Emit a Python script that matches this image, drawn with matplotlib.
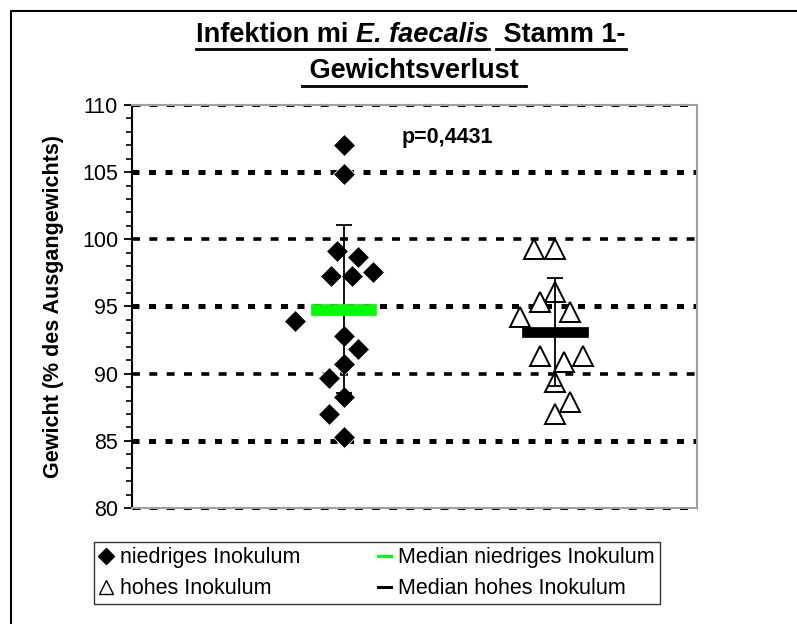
import matplotlib
matplotlib.use("Agg")
import matplotlib.pyplot as plt
from matplotlib.lines import Line2D
from matplotlib.patches import Rectangle

plt.rcParams['font.family'] = ['Liberation Sans', 'DejaVu Sans']

# Werte (Gewicht in % des Ausgangsgewichts)
niedrig = [107.0, 104.9, 99.1, 98.7, 97.3, 97.3, 97.6, 93.9, 92.8, 91.8, 90.7, 89.7, 88.3, 87.0, 85.3]
niedrig_dx = [0, 0, -0.03, 0.07, -0.06, 0.04, 0.14, -0.23, 0, 0.07, 0, -0.07, 0, -0.07, 0]
hoch = [99.3, 99.3, 96.1, 95.35, 94.6, 94.2, 91.3, 90.9, 91.3, 89.4, 87.9, 87.0]
hoch_dx = [-0.1, 0, 0, -0.07, 0.07, -0.165, -0.07, 0.04, 0.13, 0, 0.07, 0]

gruppen_x = [1, 2]
mittel = [94.8, 93.1]
sd = [6.25, 4.0]
median_farben = ['#00FF00', 'black']

legend_labels = ['niedriges Inokulum', 'hohes Inokulum',
                 'Median niedriges Inokulum', 'Median hohes Inokulum']
p_text = 'p=0,4431'

W, H = 797, 624
fig = plt.figure(figsize=(W / 100, H / 100), dpi=100)
ax = fig.add_axes([132 / W, 1 - 508 / H, (697 - 132) / W, (508 - 105) / H])

# Rahmen um das Diagramm (rechts/unten abgeschnitten)
fig.patches.append(Rectangle((11 / W, -0.1), 1.2, 1.1 - 11 / H, transform=fig.transFigure,
                             fill=False, edgecolor='black', lw=1.5))

# Gitterlinien
for y in [85, 95, 105]:
    ax.axhline(y, color='black', lw=3.6, dashes=(1.4, 1.9), zorder=1)
for y in [90, 100]:
    ax.axhline(y, color='black', lw=2.6, dashes=(2.2, 2.6), zorder=1)
for y in [80, 110]:
    ax.axhline(y, color='black', lw=2.2, dashes=(2.6, 3.0), zorder=1, clip_on=False)

# Punkte
ax.plot([gruppen_x[0] + d for d in niedrig_dx], niedrig, 'D', ms=11, color='black',
        mec='white', mew=0.6, zorder=3)
ax.plot([gruppen_x[1] + d for d in hoch_dx], hoch, '^', ms=14, mfc='white', mec='black',
        mew=1.4, zorder=3)

# Fehlerbalken (Mittelwert +- SD)
ax.errorbar(gruppen_x, mittel, yerr=sd, fmt='none', ecolor='black', elinewidth=1.3,
            capsize=5.5, capthick=1.3, zorder=4)

# "Median"-Balken
for x, m, c in zip(gruppen_x, mittel, median_farben):
    ax.bar(x, 0.8, bottom=m - 0.4, width=0.31, color=c, edgecolor=c, lw=0.5, zorder=5)

ax.set_xlim(0, 2.67)
ax.set_ylim(80, 110)
ax.set_xticks([])
ax.set_yticks(range(80, 111, 5))
ax.set_yticks(range(80, 111), minor=True)
ax.tick_params(axis='y', which='major', direction='out', length=6, width=1.3, labelsize=15.5, pad=4)
ax.tick_params(axis='y', which='minor', direction='out', length=4, width=1.2)
for s in ['top', 'right', 'bottom']:
    ax.spines[s].set_color('#a0a0a0')
    ax.spines[s].set_linewidth(1.5)
ax.spines['left'].set_linewidth(1.5)
ax.set_ylabel('Gewicht (% des Ausgangewichts)', fontsize=15.5, fontweight='bold')
ax.yaxis.set_label_coords(-0.12, 0.5)

fig.text(402 / W, 1 - 137 / H, p_text, fontsize=15.5, fontweight='bold', va='center', ha='left')

# Titel mit Unterstreichung
fig.canvas.draw()
renderer = fig.canvas.get_renderer()
title_fs = 19.5


def zeile(teile, baseline_px, center_px):
    objs = []
    for txt, style in teile:
        t = fig.text(0, 1 - baseline_px / H, txt, fontsize=title_fs, fontweight='bold',
                     fontstyle=style, va='baseline', ha='left')
        objs.append(t)
    widths = [t.get_window_extent(renderer).width for t in objs]
    x = center_px - sum(widths) / 2
    starts = []
    for t, w in zip(objs, widths):
        t.set_x(x / W)
        starts.append((x, x + w))
        x += w
    return starts


s1 = zeile([('Infektion mi ', 'normal'), ('E. faecalis', 'italic'), (' ', 'normal'),
            (' Stamm 1-', 'normal')], 42, 411)
for a, b in [(s1[0][0], s1[1][1]), (s1[3][0], s1[3][1])]:
    fig.add_artist(Line2D([a / W, b / W], [1 - 49 / H] * 2, color='black', lw=2))
s2 = zeile([(' Gewichtsverlust ', 'normal')], 78, 414)
fig.add_artist(Line2D([s2[0][0] / W, s2[0][1] / W], [1 - 86 / H] * 2, color='black', lw=2))

# Legende
handles = [
    Line2D([], [], marker='D', ls='none', color='black', ms=8),
    Line2D([], [], marker='^', ls='none', mfc='white', mec='black', ms=10, mew=1.0),
    Line2D([], [], color='#00FF00', lw=2.2),
    Line2D([], [], color='black', lw=2.2),
]
leg = fig.legend(handles, legend_labels, ncol=2, loc='upper left',
                 bbox_to_anchor=(94 / W, 1 - 542 / H), fontsize=15.5, frameon=True,
                 fancybox=False, edgecolor='black', handlelength=0.6, handletextpad=0.35,
                 columnspacing=3.6, borderpad=0.25, labelspacing=0.45, borderaxespad=0)
leg.get_frame().set_linewidth(1.0)

fig.savefig('out.png', dpi=100)
